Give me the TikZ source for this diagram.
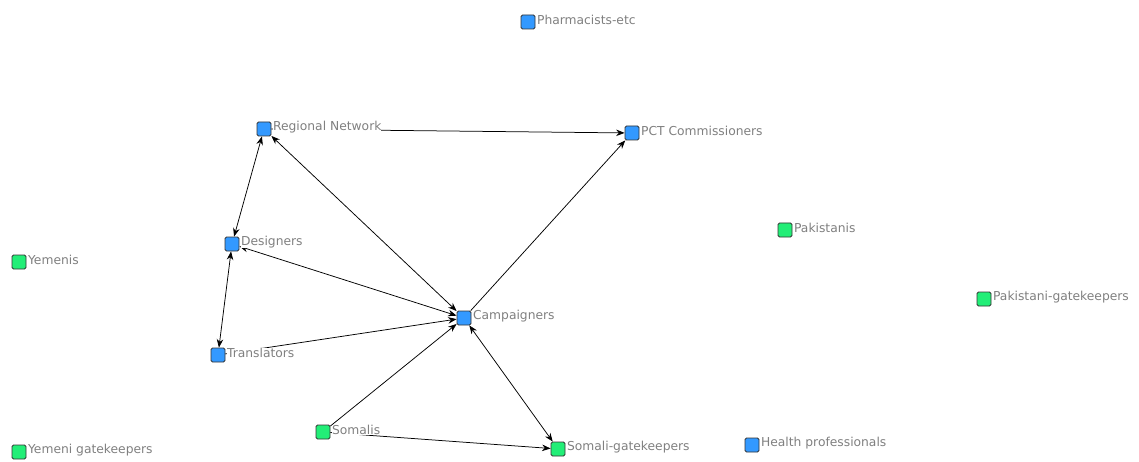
\documentclass[tikz,border=0pt]{standalone}
\usepackage{fontspec}
\setmainfont{DejaVu Sans}
\usetikzlibrary{arrows.meta}
\definecolor{actorblue}{HTML}{3399FF}
\definecolor{actorgreen}{HTML}{22EE77}
\definecolor{labelgray}{HTML}{808080}
\tikzset{
  actor/.style={draw=black!80, line width=0.8pt, rounded corners=1.5pt,
    minimum size=14pt, inner sep=0pt},
  blueactor/.style={actor, fill=actorblue},
  greenactor/.style={actor, fill=actorgreen},
  tag/.style={anchor=west, fill=white, inner sep=0pt, text=labelgray,
    font=\fontsize{12.3}{12.3}\selectfont, xshift=1.5pt, yshift=2pt},
  tie/.style={draw=black, line width=0.75pt},
  onew/.style={tie, -{Stealth[length=8.5pt,width=6.5pt]}},
  twow/.style={tie, {Stealth[length=8.5pt,width=6.5pt]}-{Stealth[length=8.5pt,width=6.5pt]}},
}
\begin{document}
\begin{tikzpicture}[x=1pt,y=-1pt]
\useasboundingbox (0,0) rectangle (1139,462);

% actors
\node[blueactor]  (pharm) at (528,22)  {};
\node[blueactor]  (rn)    at (264,129) {};
\node[blueactor]  (pct)   at (632,133) {};
\node[blueactor]  (des)   at (232,244) {};
\node[greenactor] (yem)   at (19,262)  {};
\node[greenactor] (pak)   at (785,230) {};
\node[greenactor] (pakg)  at (984,299) {};
\node[blueactor]  (camp)  at (464,318) {};
\node[blueactor]  (trans) at (218,355) {};
\node[greenactor] (som)   at (323,432) {};
\node[greenactor] (somg)  at (558,449) {};
\node[blueactor]  (hp)    at (752,445) {};
\node[greenactor] (yemg)  at (19,452)  {};

% ties between actors
\draw[onew] (rn) -- (pct);
\draw[onew] (camp) -- (pct);
\draw[twow] (rn) -- (des);
\draw[twow] (rn) -- (camp);
\draw[twow] (des) -- (camp);
\draw[twow] (des) -- (trans);
\draw[onew] (trans) -- (camp);
\draw[onew] (som) -- (camp);
\draw[twow] (camp) -- (somg);
\draw[onew] (som) -- (somg);

% actor names
\node[tag] (pharm-l) at (pharm.east) {Pharmacists-etc};
\node[tag] (rn-l)    at (rn.east)    {Regional Network};
\node[tag] (pct-l)   at (pct.east)   {PCT Commissioners};
\node[tag] (des-l)   at (des.east)   {Designers};
\node[tag] (yem-l)   at (yem.east)   {Yemenis};
\node[tag] (pak-l)   at (pak.east)   {Pakistanis};
\node[tag] (pakg-l)  at (pakg.east)  {Pakistani-gatekeepers};
\node[tag] (camp-l)  at (camp.east)  {Campaigners};
\node[tag] (trans-l) at (trans.east) {Translators};
\node[tag] (som-l)   at (som.east)   {Somalis};
\node[tag] (somg-l)  at (somg.east)  {Somali-gatekeepers};
\node[tag] (hp-l)    at (hp.east)    {Health professionals};
\node[tag] (yemg-l)  at (yemg.east)  {Yemeni gatekeepers};
\end{tikzpicture}
\end{document}
